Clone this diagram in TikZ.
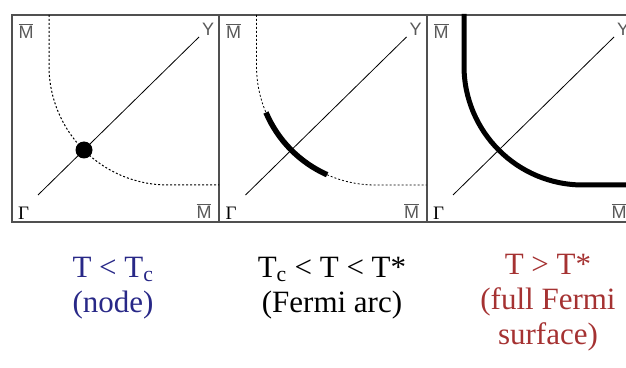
\documentclass[tikz,border=0pt]{standalone}
\usepackage{fontspec}
\setmainfont{Liberation Serif}
\newfontfamily\labelfont{Liberation Sans}
\definecolor{framegray}{RGB}{80,80,80}
\definecolor{lowT}{RGB}{40,40,135}
\definecolor{highT}{RGB}{165,50,50}

\begin{document}
\begin{tikzpicture}[x=1pt,y=1pt,
  box/.style={draw=framegray,line width=1.3pt},
  kpt/.style={font=\labelfont\fontsize{18}{18}\selectfont,text=black!65,inner sep=0pt},
  gpt/.style={font=\fontsize{19}{19}\selectfont,inner sep=0pt},
  fsdots/.style={dash pattern=on 2pt off 2pt,line width=1pt},
  fsthick/.style={line width=5pt},
  caption/.style={align=center,anchor=north,inner sep=0pt,font=\fontsize{31}{35}\selectfont}]
\useasboundingbox (0,0) rectangle (626,367);
\clip (0,0) rectangle (626,367);
% the three Brillouin zone quadrants
\foreach \px/\n in {12/1,219.5/2,427/3}{
\begin{scope}[shift={(\px,145)}]
\draw[box] (0,0) rectangle (207,207);
\node[kpt] (mtop\n) at (14,191) {$\overline{\hbox{M}}$};
\node[kpt] (y\n) at (196,193) {Y};
\node[gpt] (gam\n) at (11.5,9) {Γ};
\node[kpt] (mbot\n) at (192,11) {$\overline{\hbox{M}}$};
\coordinate (diagA\n) at (26,27);
\coordinate (diagB\n) at (187,185);
\draw[line width=0.8pt] (diagA\n) -- (diagB\n);
\end{scope}
}
% T < Tc : node
\begin{scope}[shift={(12,145)}]
\draw[fsdots] (37,207) -- (37,156) arc[start angle=180,end angle=270,radius=119] -- (207,37);
\node[circle,fill,minimum size=17pt,inner sep=0pt] (gapnode) at (72,72) {};
\end{scope}
% Tc < T < T* : Fermi arc
\begin{scope}[shift={(219.5,145)}]
\draw[fsdots,line width=0.8pt] (37,207) -- (37,156) arc[start angle=180,end angle=270,radius=119] -- (207,37);
\draw[fsthick,line width=5.5pt] ([shift={(156,156)}]203:119) arc[start angle=203,end angle=246,radius=119];
\end{scope}
% T > T* : full Fermi surface
\begin{scope}[shift={(427,145)}]
\draw[fsthick] (37,208) -- (37,156) arc[start angle=180,end angle=270,radius=119] -- (210,37);
\end{scope}
% captions
\node[caption,text=lowT] (cap1) at (113,110) {T < T\textsubscript{c}\\(node)};
\node[caption] (cap2) at (332,110) {T\textsubscript{c} < T < T*\\(Fermi arc)};
\node[caption,text=highT] (cap3) at (548,113) {T > T*\\(full Fermi\\surface)};
\end{tikzpicture}
\end{document}
